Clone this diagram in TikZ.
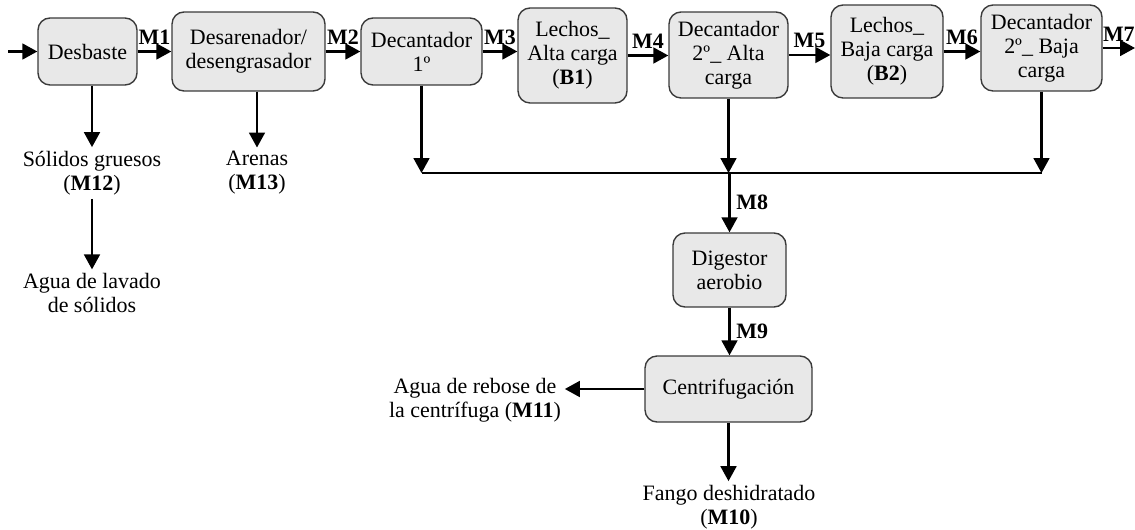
\documentclass[tikz,border=0pt]{standalone}
\usepackage{fontspec}
\setmainfont{Liberation Serif}
\usetikzlibrary{arrows.meta}
\definecolor{cajagris}{HTML}{E8E8E8}
\definecolor{bordegris}{HTML}{3A3A3A}
\tikzset{
	caja/.style={draw=bordegris, line width=0.8pt, fill=cajagris,
		rounded corners=0.24cm, align=center, inner sep=0pt},
	flujo/.style={line width=1.25pt, -{Triangle[length=8.5pt, width=9pt]}},
	linea/.style={line width=1.25pt},
	etiq/.style={font=\fontsize{12.5}{13.7}\selectfont\bfseries},
	texto/.style={align=center, inner sep=2pt}
}
\begin{document}
\begin{tikzpicture}[x=0.02cm, y=-0.02cm, font=\fontsize{12.5}{13.7}\selectfont]
	\useasboundingbox (0, 0) rectangle (1135, 530);
	% Linea principal
	\node[caja, minimum width=1.98cm, minimum height=1.34cm] (desbaste) at (87.5, 51.5) {Desbaste};
	\node[caja, minimum width=3.06cm, minimum height=1.58cm] (desaren) at (248.5, 51.5) {Desarenador/\\desengrasador};
	\node[caja, minimum width=2.42cm, minimum height=1.34cm] (dec1) at (421.5, 51.5) {Decantador\\1º};
	\node[caja, minimum width=2.18cm, minimum height=1.90cm] (lechA) at (572.5, 55.5) {Lechos\_\\Alta carga\\(\textbf{B1})};
	\node[caja, minimum width=2.38cm, minimum height=1.72cm] (dec2A) at (728.5, 55) {Decantador\\2º\_ Alta\\carga};
	\node[caja, minimum width=2.24cm, minimum height=1.86cm] (lechB) at (887, 51.5) {Lechos\_\\Baja carga\\(\textbf{B2})};
	\node[caja, minimum width=2.42cm, minimum height=1.72cm] (dec2B) at (1041.5, 48) {Decantador\\2º\_ Baja\\carga};
	% Linea de fangos
	\node[caja, minimum width=2.26cm, minimum height=1.48cm] (digestor) at (729.5, 270) {Digestor\\aerobio};
	\node[caja, minimum width=3.34cm, minimum height=1.32cm] (centri) at (728.5, 389) {Centrifugación};
	% Salidas
	\node[texto] (solidos) at (92, 173) {Sólidos gruesos\\(\textbf{M12})};
	\node[texto] (lavado) at (92, 293) {Agua de lavado\\de sólidos};
	\node[texto] (arenas) at (257, 173) {Arenas\\(\textbf{M13})};
	\node[texto] (rebose) at (475, 400) {Agua de rebose de\\la centrífuga (\textbf{M11})};
	\node[texto] (fango) at (729, 507) {Fango deshidratado\\(\textbf{M10})};
	\coordinate (entrada) at (8, 51.5);
	\coordinate (salida) at (1135, 48);
	\coordinate (colector) at (729, 173);
	% Corrientes M1 - M7
	\draw[flujo] (entrada) -- (desbaste.west);
	\draw[flujo] (desbaste.east) -- (desbaste.east -| desaren.west) node[etiq, midway, above] {M1};
	\draw[flujo] (desaren.east) -- (desaren.east -| dec1.west) node[etiq, midway, above] {M2};
	\draw[flujo] (dec1.east) -- (dec1.east -| lechA.west) node[etiq, midway, above] {M3};
	\draw[flujo] (lechA.east) -- (lechA.east -| dec2A.west) node[etiq, midway, above] {M4};
	\draw[flujo] (dec2A.east) -- (dec2A.east -| lechB.west) node[etiq, midway, above] {M5};
	\draw[flujo] (lechB.east) -- (lechB.east -| dec2B.west) node[etiq, midway, above] {M6};
	\draw[flujo] (dec2B.east) -- (salida) node[etiq, midway, above] {M7};
	% Solidos y arenas
	\draw[flujo] (solidos.north |- desbaste.south) -- (solidos.north);
	\draw[flujo] (solidos.south) -- (lavado.north);
	\draw[flujo] (arenas.north |- desaren.south) -- (arenas.north);
	% Fangos de los decantadores
	\draw[flujo] (dec1.south) -- (dec1.south |- colector);
	\draw[flujo] (dec2A.south) -- (dec2A.south |- colector);
	\draw[flujo] (dec2B.south) -- (dec2B.south |- colector);
	\draw[linea] (dec1.south |- colector) -- (dec2B.south |- colector);
	\draw[flujo] (digestor.north |- colector) -- (digestor.north) node[etiq, midway, right] {M8};
	\draw[flujo] (digestor.south) -- (digestor.south |- centri.north) node[etiq, midway, right] {M9};
	\draw[flujo] (centri.west) -- (centri.west -| rebose.east);
	\draw[flujo] (centri.south) -- (centri.south |- fango.north);
\end{tikzpicture}
\end{document}
